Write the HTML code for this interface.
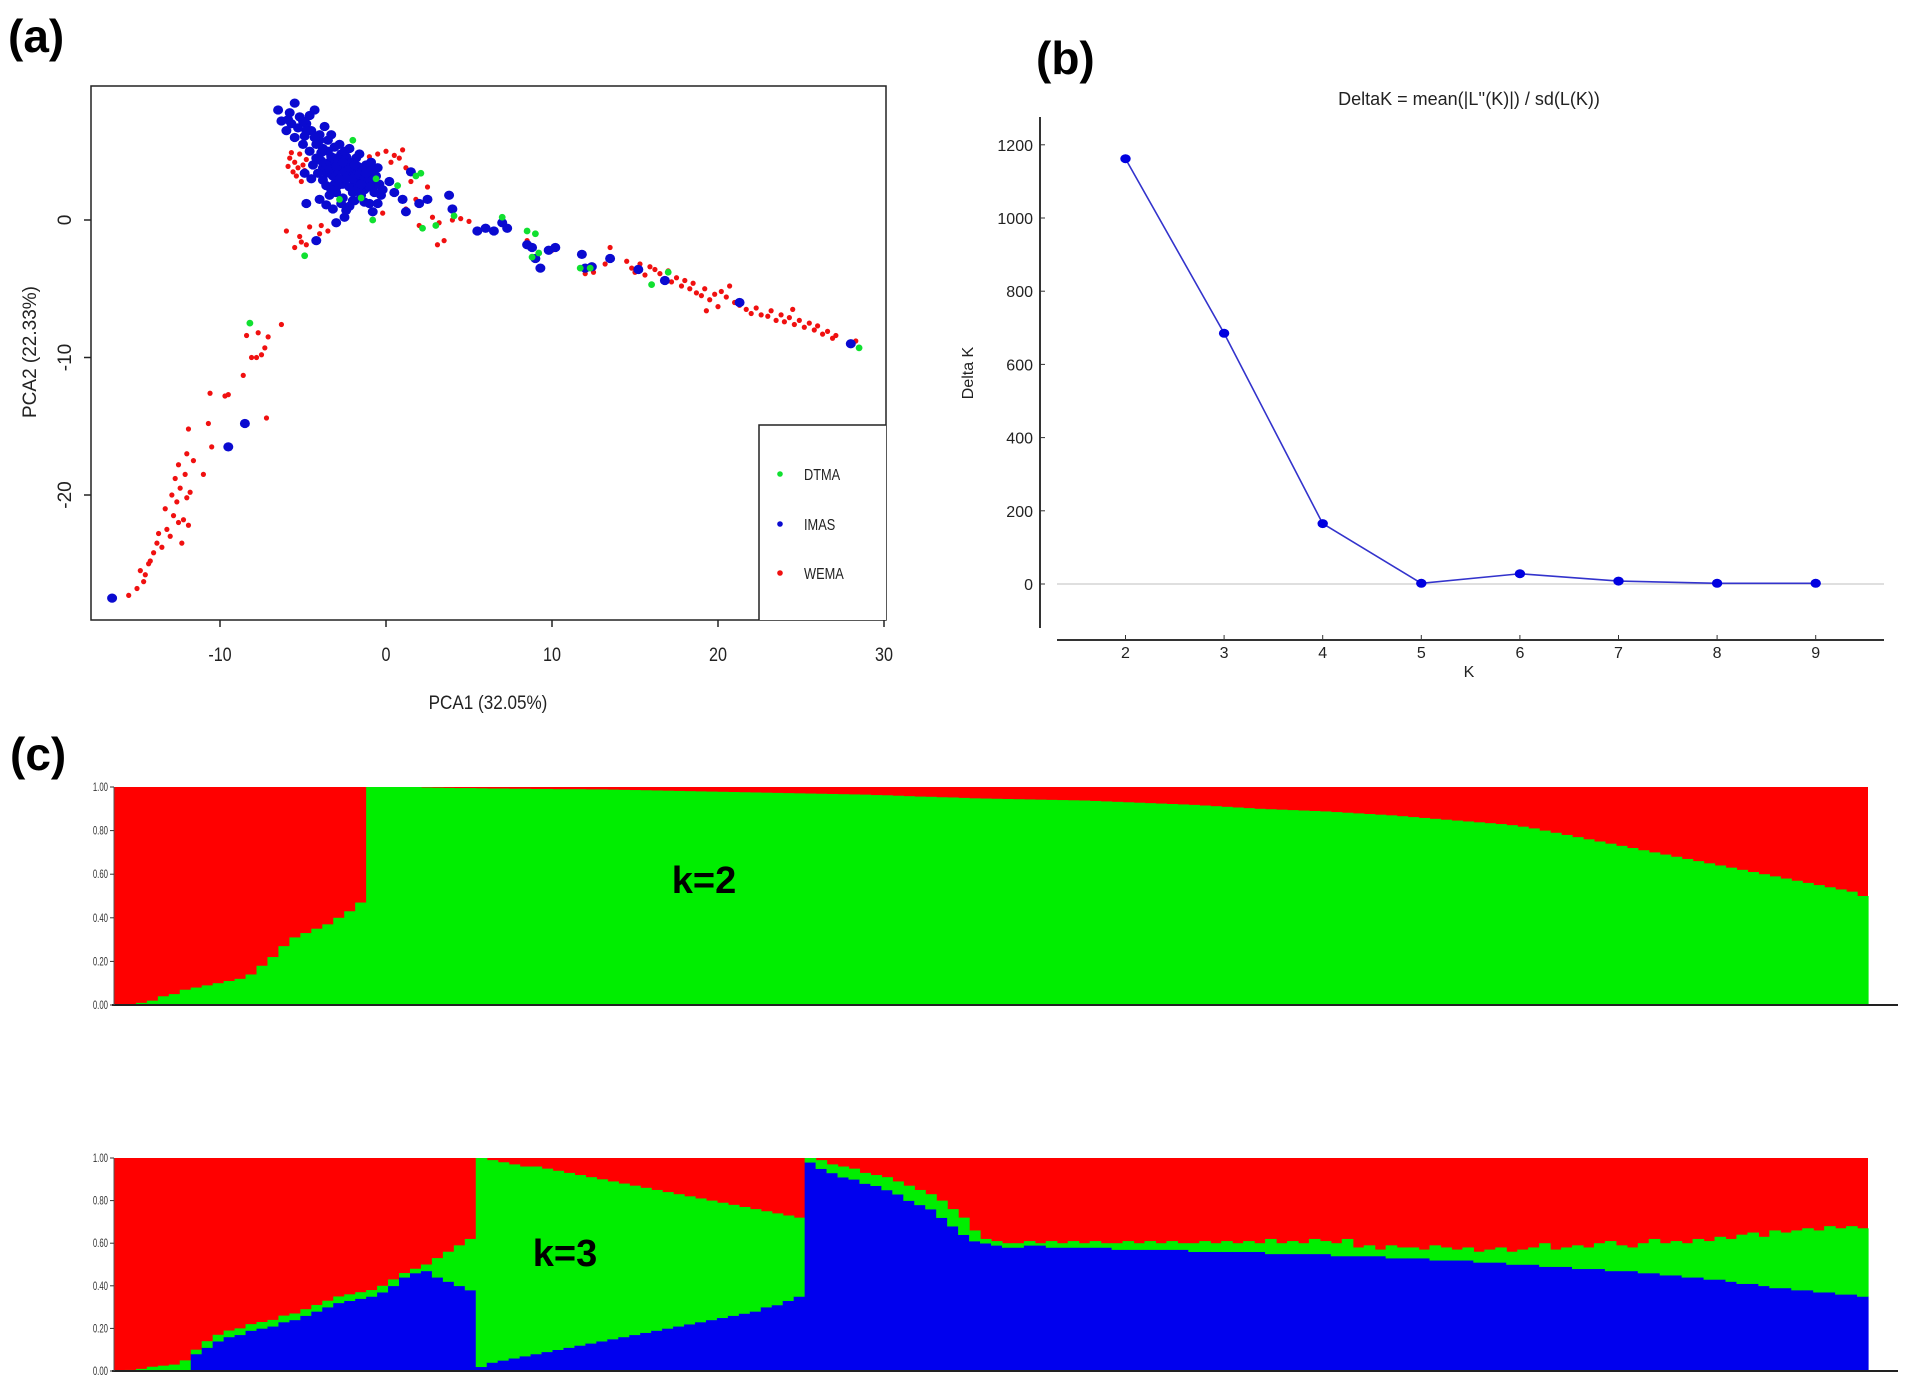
<!DOCTYPE html>
<html><head><meta charset="utf-8"><style>
html,body{margin:0;padding:0;background:#fff;}
svg{display:block;font-family:"Liberation Sans",sans-serif;}
</style></head><body>
<svg id="fig" width="1909" height="1389" viewBox="0 0 1909 1389" xmlns="http://www.w3.org/2000/svg">
<rect width="1909" height="1389" fill="#fff"/>
<g id="pca"></g>
<g id="dk"></g>
<g id="st"></g>
</svg>
<script>
// ---------- Panel (a) PCA data ----------
const wemaPts = [[-15.5,-27.3],[-15,-26.8],[-14.8,-25.5],[-14.5,-25.8],[-14.3,-25],[-14,-24.2],[-14.2,-24.8],[-13.8,-23.5],[-13.5,-23.8],[-13.7,-22.8],[-13.2,-22.5],[-13,-23],[-12.8,-21.5],[-13.3,-21],[-12.5,-22],[-12.6,-20.5],[-12.2,-21.8],[-12.9,-20],[-12.4,-19.5],[-12,-20.2],[-12.7,-18.8],[-12.1,-18.5],[-11.8,-19.8],[-11.6,-17.5],[-12.5,-17.8],[-12,-17],[-11.9,-15.2],[-11,-18.5],[-10.5,-16.5],[-10.7,-14.8],[-10.6,-12.6],[-9.7,-12.8],[-9.5,-12.7],[-8.6,-11.3],[-8.1,-10],[-7.8,-10],[-7.5,-9.8],[-7.3,-9.3],[-7.1,-8.5],[-7.2,-14.4],[-8.4,-8.4],[-7.7,-8.2],[-6.3,-7.6],[-12.3,-23.5],[-11.9,-22.2],[-14.6,-26.3],
[-5.8,4.5],[-5.5,4.2],[-5.3,3.8],[-5.6,3.5],[-5.2,4.8],[-5.9,3.9],[-5,4],[-5.4,3.2],[-4.9,3.6],[-5.7,4.9],[-5.1,2.8],[-4.8,4.4],
[-6,-0.8],[-5.2,-1.2],[-4.6,-0.5],[-4,-1],[-3.5,-0.8],[-4.8,-1.8],[-5.5,-2],[-4.2,-1.5],[-5.1,-1.6],[-3.9,-0.4],
[-0.5,4.8],[0,5],[0.5,4.7],[1,5.1],[-1,4.6],[0.3,4.2],[1.2,3.8],[0.8,4.5],[1.5,2.8],[2.5,2.4],[1.8,1.5],[2.8,0.2],[3.2,-0.2],[3.5,-1.5],[3.1,-1.8],[4,0],[4.5,0.1],[5,-0.1],[2,-0.4],[1.2,0.8],[-0.2,0.5],
[6,-0.5],[8.5,-1.5],[10,-2.2],[12.5,-3.8],[13.5,-2],[13.2,-3.2],[12,-3.9],
[14.5,-3],[14.8,-3.5],[15,-3.8],[15.3,-3.2],[15.6,-4],[15.9,-3.4],[16.2,-3.6],[16.5,-3.9],[16.8,-4.3],[17,-3.7],[17.2,-4.5],[17.5,-4.2],[17.8,-4.8],[18,-4.4],[18.3,-5],[18.5,-4.6],[18.7,-5.3],[19,-5.5],[19.2,-5],[19.5,-5.8],[19.8,-5.4],[20,-6.3],[20.2,-5.2],[20.5,-5.6],[21,-6],[21.3,-6.2],[21.7,-6.5],[22,-6.8],[22.3,-6.4],[22.6,-6.9],[23,-7],[23.2,-6.6],[23.5,-7.3],[23.8,-6.9],[24,-7.4],[24.3,-7.1],[24.6,-7.6],[24.9,-7.3],[25.2,-7.8],[25.5,-7.5],[25.8,-8],[26,-7.7],[26.3,-8.3],[26.6,-8.1],[26.9,-8.6],[27.1,-8.4],[28.3,-8.8],[20.7,-4.8],[19.3,-6.6],[24.5,-6.5]];
const imasPts = [[-16.5,-27.5],[-9.5,-16.5],[-8.5,-14.8],
[-5.8,7.8],[-6.3,7.2],[-5.5,8.5],[-5.2,7.5],[-4.8,7],[-4.3,8],[-6,6.5],[-5.5,6],[-5,5.5],[-4.5,6.5],[-4,5.8],[-3.7,6.8],[-3.5,5],[-3,4.5],[-2.8,5.5],[-2.5,4],[-2.2,5.2],[-2,3.5],[-1.8,4.5],[-1.5,3],[-1.2,4],[-1,3.2],[-0.7,2.5],[-0.5,3.8],[-3.2,3.2],[-3.8,3.8],[-4.2,4.5],[-2.6,2.6],[-2,2],[-1.5,1.8],[-3,2],[-3.6,2.5],[-4,1.5],[-3.2,0.8],[-2.2,1],[-2.5,0.2],[-1,1.2],[-0.3,1.8],[-4.5,3],[-3.4,4.2],[-2.9,3.6],[-1.9,2.8],[-2.3,3.3],[-1.3,2.2],[-0.8,0.6],[0.5,2],[1,1.5],[1.2,0.6],[1.5,3.5],[2,1.2],[2.5,1.5],[3.8,1.8],[4,0.8],[-4.2,-1.5],[-4.8,1.2],[-3,-0.2],
[-4.6,5],[-4.2,5.5],[-3.9,4.9],[-3.5,5.8],[-3.3,4.6],[-3.1,5.3],[-2.7,4.8],[-2.4,4.6],[-2.1,4.2],[-1.7,3.9],[-1.4,3.6],[-1.1,2.8],[-0.9,3.6],[-0.6,3.2],[-2.8,3],[-2.5,3.5],[-3.6,3.4],[-4.1,3.4],[-3.8,2.9],[-2.2,2.4],[-1.7,2.3],[-1.2,2.6],[-0.4,2.6],[-2.6,1.6],[-3.4,1.8],[-4.9,6.1],[-5.3,6.7],[-4.6,7.6],[-3.6,4],[-2.2,3.8],[-1.6,4.8],[-0.9,4.2],[-4.9,3.4],[-3.1,2.6],[-1.9,1.4],[-0.5,1.2],[0.2,2.8],[-5.7,7],[-6.5,8],[-4,6.2],
[-3.9,4.3],[-3.4,3.7],[-3,3.9],[-2.6,4.2],[-2.4,3],[-2,3],[-1.6,3.3],[-1.3,3.1],[-1,2.4],[-0.7,2],[-2.9,2.5],[-3.3,2.2],[-2.7,1.2],[-2,1.4],[-1.5,2.6],[-4.4,4],[-4.3,6],[-4.8,6.5],[-5,7.2],[-5.9,7.3],[-3.3,6.2],[-3.8,5.2],[-2.5,5],[-1.9,4],[-1.2,3.4],[-0.8,2.9],[-0.2,2.2],[-3.6,1.1],[-2.4,0.7],[-1.3,1.3],
[5.5,-0.8],[6,-0.6],[6.5,-0.8],[7,-0.2],[7.3,-0.6],[8.5,-1.8],[8.8,-2],[9,-2.8],[9.3,-3.5],[9.8,-2.2],[10.2,-2],[11.8,-2.5],[12,-3.5],[12.4,-3.4],[13.5,-2.8],[15.2,-3.6],[16.8,-4.4],[21.3,-6],[28,-9]];
const dtmaPts = [[-8.2,-7.5],[-4.9,-2.6],[-2,5.8],[-1.5,1.6],[-0.8,0],[0.7,2.5],[1.8,3.2],[2.1,3.4],[2.2,-0.6],[3,-0.4],[4.1,0.3],[7,0.2],[8.5,-0.8],[9,-1],[9.2,-2.4],[8.8,-2.7],[11.7,-3.5],[12.3,-3.5],[16,-4.7],[17,-3.8],[28.5,-9.3],[-0.6,3],[-2.8,1.5]];
const pcaXTicks = [-10,0,10,20,30];
const pcaYTicks = [0,-10,-20];
const legendLabels = ["DTMA","IMAS","WEMA"];

// ---------- Panel (b) DeltaK data ----------
const kValues = [2,3,4,5,6,7,8,9];
const deltaK = [1162,685,165,2,28,8,2,2];
const dkYTicks = [0,200,400,600,800,1000,1200];

// ---------- Panel (c) structure data ----------
const k2Green = [0,0,0.01,0.02,0.04,0.05,0.07,0.08,0.09,0.1,0.11,0.12,0.14,0.18,0.22,0.27,0.31,0.33,0.35,0.37,0.4,0.43,0.47,
1,1,1,1,1,0.998,0.997,0.996,0.995,0.995,
.994,.993,.993,.992,.992,.991,.991,.99,.99,.99,
.989,.989,.988,.987,.986,.985,.984,.983,.982,.981,
.98,.979,.978,.977,.976,.975,.974,.973,.972,.971,
.97,.969,.968,.967,.966,.965,.963,.962,.96,.958,
.956,.955,.953,.952,.95,.948,.947,.946,.945,.944,
.943,.942,.941,.94,.939,.938,.936,.934,.932,.93,
.928,.926,.924,.922,.92,.918,.915,.912,.909,.906,
.903,.9,.898,.896,.894,.892,.89,.888,.885,.882,
.879,.876,.873,.87,.866,.862,.858,.854,.85,.846,
.842,.838,.834,.83,.825,.818,.81,.8,.79,.78,
.77,.76,.75,.74,.73,.72,.71,.7,.69,.68,
.67,.66,.65,.64,.63,.62,.61,.6,.59,.58,
.57,.56,.55,.54,.53,.52,.5];
const k3Blue = [0,0,0,0,0,0,0,
.08,.11,.14,.16,.17,.19,.2,.21,.23,.24,.26,.28,.3,.32,.33,.34,.35,.37,.4,.44,.46,.47,.44,.42,.4,.38,
0.02,0.04,0.05,0.06,0.07,0.08,0.09,0.1,0.11,0.12,0.13,0.14,0.15,0.16,0.17,0.18,0.19,0.2,0.21,0.22,0.23,0.24,0.25,0.26,0.27,0.28,0.3,0.31,0.33,0.35,
.98,.95,.93,.91,.9,.88,.87,.85,.83,.8,.78,.76,.72,.68,.64,.61,.6,.59,.58,.58,
.59,.59,.58,.58,.58,.58,.58,.58,.57,.57,
.57,.57,.57,.57,.57,.56,.56,.56,.56,.56,
.56,.56,.55,.55,.55,.55,.55,.55,.54,.54,
.54,.54,.54,.53,.53,.53,.53,.52,.52,.52,
.52,.51,.51,.51,.5,.5,.5,.49,.49,.49,
.48,.48,.48,.47,.47,.47,.46,.46,.45,.45,
.44,.44,.43,.43,.42,.41,.41,.4,.39,.39,
.38,.38,.37,.37,.36,.36,.35];
const k3Green = [0,.005,.01,.02,.025,.03,.05,
.02,.03,.03,.03,.03,.03,.03,.03,.03,.03,.03,.03,.03,.03,.03,.03,.03,.03,.03,.02,.02,.03,.09,.14,.19,.24,
.98,.95,.93,.91,.89,.88,.86,.84,.82,.8,.78,.76,.74,.72,.7,.68,.66,.64,.62,.6,.58,.56,.54,.52,.5,.48,.45,.43,.4,.37,
.02,.04,.04,.05,.05,.05,.05,.06,.06,.07,.07,.07,.08,.08,.08,.05,.02,.02,.02,.02,
.02,.01,.03,.02,.03,.02,.03,.02,.03,.04,
.03,.04,.03,.04,.03,.04,.05,.04,.05,.04,
.05,.04,.07,.05,.06,.05,.07,.06,.06,.08,
.04,.05,.03,.06,.05,.05,.04,.07,.06,.05,
.06,.05,.06,.07,.06,.07,.08,.11,.08,.09,
.11,.1,.12,.14,.12,.11,.14,.16,.15,.16,
.16,.18,.18,.2,.2,.23,.24,.23,.27,.26,
.28,.29,.29,.31,.31,.32,.32];
const structTicks = ["0.00","0.20","0.40","0.60","0.80","1.00"];

const NS = "http://www.w3.org/2000/svg";
function mk(parent, tag, attrs, text){
  const el = document.createElementNS(NS, tag);
  for (const k in attrs) el.setAttribute(k, attrs[k]);
  if (text !== undefined) el.textContent = text;
  parent.appendChild(el);
  return el;
}

// ===== Panel (a) =====
(function(){
  const g = document.getElementById('pca');
  const X = v => 386 + v*16.6;
  const Y = v => 220 - v*13.75;
  let t = mk(g,'text',{x:8,y:52,'font-size':46,'font-weight':'bold'},'(a)');
  
  
  let r = mk(g,'rect',{x:91,y:86,width:795,height:534,fill:'none',stroke:'#222','stroke-width':1.5});
  
  
  pcaXTicks.forEach(v=>{
    const l = mk(g,'line',{x1:X(v),x2:X(v),y1:620,y2:627,stroke:'#222','stroke-width':1.5});
    
    
    const tx = mk(g,'text',{x:X(v),y:661,'font-size':19,'text-anchor':'middle',fill:'#222',transform:`scale(0.85,1) translate(${X(v)*(1/0.85-1)},0)`},String(v));
    
    
  });
  pcaYTicks.forEach(v=>{
    const l = mk(g,'line',{x1:84,x2:91,y1:Y(v),y2:Y(v),stroke:'#222','stroke-width':1.5});
    
    
    const tx = mk(g,'text',{x:0,y:0,'font-size':19,'text-anchor':'middle',fill:'#222',transform:`translate(71,${Y(v)}) rotate(-90)`},String(v));
    
    
  });
  t = mk(g,'text',{x:0,y:0,'font-size':19,'text-anchor':'middle',fill:'#222',transform:'translate(488,709) scale(0.9,1)'},'PCA1 (32.05%)');
  
  
  t = mk(g,'text',{x:0,y:0,'font-size':19,'text-anchor':'middle',fill:'#222',transform:'translate(36,352) rotate(-90)'},'PCA2 (22.33%)');
  
  
  const pg = mk(g,'g',{});
  
  
  wemaPts.forEach(p=>{
    const c = mk(pg,'circle',{cx:X(p[0]),cy:Y(p[1]),r:2.6,fill:'#f01010'});
    
    
  });
  imasPts.forEach(p=>{
    const c = mk(pg,'ellipse',{cx:X(p[0]),cy:Y(p[1]),rx:5,ry:4.6,fill:'#0a0ad0'});
    
    
  });
  dtmaPts.forEach(p=>{
    const c = mk(pg,'circle',{cx:X(p[0]),cy:Y(p[1]),r:3.4,fill:'#10e030'});
    
    
  });
  const lg = mk(g,'g',{});
  
  
  mk(lg,'rect',{x:759,y:425,width:127,height:195,fill:'#fff',stroke:'none'});
  mk(lg,'polyline',{points:'759,620 759,425 886,425',fill:'none',stroke:'#222','stroke-width':1.5});
  const cols = ['#10e030','#0a0ad0','#f01010'];
  const ys = [474,524,573];
  legendLabels.forEach((lab,i)=>{
    const c = mk(lg,'circle',{cx:780,cy:ys[i],r:2.8,fill:cols[i]});
    
    
    const tx = mk(lg,'text',{x:0,y:0,'font-size':16,fill:'#222',transform:`translate(804,${ys[i]+6}) scale(0.8,1)`},lab);
    
    
  });
})();

// ===== Panel (b) =====
(function(){
  const g = document.getElementById('dk');
  const X = k => 1125.5 + (k-2)*98.6;
  const Y = v => 584 - v*0.366;
  let t = mk(g,'text',{x:1036,y:74,'font-size':46,'font-weight':'bold'},'(b)');
  
  
  t = mk(g,'text',{x:1469,y:105,'font-size':18,'text-anchor':'middle',fill:'#222'},"DeltaK = mean(|L''(K)|) / sd(L(K))");
  
  
  let l = mk(g,'line',{x1:1040,x2:1040,y1:117,y2:628,stroke:'#333','stroke-width':2});
  
  
  l = mk(g,'line',{x1:1057,x2:1884,y1:640,y2:640,stroke:'#333','stroke-width':2});
  
  
  l = mk(g,'line',{x1:1057,x2:1884,y1:Y(0),y2:Y(0),stroke:'#ccc','stroke-width':1.2});
  
  
  dkYTicks.forEach(v=>{
    const tk = mk(g,'line',{x1:1040,x2:1045,y1:Y(v),y2:Y(v),stroke:'#333','stroke-width':1});
    
    
    const tx = mk(g,'text',{x:1033,y:Y(v)+6,'font-size':16,'text-anchor':'end',fill:'#222'},String(v));
    
    
  });
  kValues.forEach(k=>{
    const tk = mk(g,'line',{x1:X(k),x2:X(k),y1:640,y2:635,stroke:'#333','stroke-width':1});
    
    
    const tx = mk(g,'text',{x:X(k),y:658,'font-size':16,'text-anchor':'middle',fill:'#222'},String(k));
    
    
  });
  t = mk(g,'text',{x:1469,y:677,'font-size':16,'text-anchor':'middle',fill:'#222'},'K');
  
  
  t = mk(g,'text',{x:0,y:0,'font-size':16,'text-anchor':'middle',fill:'#222',transform:'translate(973,373) rotate(-90)'},'Delta K');
  
  
  const pts = kValues.map((k,i)=>X(k)+','+Y(deltaK[i])).join(' ');
  const pl = mk(g,'polyline',{points:pts,fill:'none',stroke:'#3333cc','stroke-width':1.6});
  
  
  kValues.forEach((k,i)=>{
    const c = mk(g,'ellipse',{cx:X(k),cy:Y(deltaK[i]),rx:5.2,ry:4.5,fill:'#0000e0'});
    
    
  });
})();

// ===== Panel (c) =====
(function(){
  const g = document.getElementById('st');
  const L = 114, R = 1868;
  let t = mk(g,'text',{x:10,y:770,'font-size':46,'font-weight':'bold'},'(c)');
  
  
  function plot(top, bot, name, layers){
    const pg = mk(g,'g',{});
    
    
    const n = layers[0].length;
    const w = (R-L)/n;
    const Y = v => bot - v*(bot-top);
    const bg = mk(pg,'rect',{x:L,y:top,width:R-L,height:bot-top,fill:'#ff0000'});
    
    
    const colors = layers.length===2 ? ['#0000ee','#00ee00'] : ['#00ee00'];
    const names = layers.length===2 ? ['cluster-blue','cluster-green'] : ['cluster-green'];
    for (let i=0;i<n;i++){
      let base = 0;
      layers.forEach((arr,j)=>{
        const v = arr[i];
        if (v>0){
          const b = mk(pg,'rect',{x:L+i*w,y:Y(base+v),width:w+0.6,height:v*(bot-top)+0.3,fill:colors[j]});
          
          
        }
        base += v;
      });
    }
    const ax = mk(pg,'line',{x1:L-2,x2:1898,y1:bot,y2:bot,stroke:'#222','stroke-width':2});
    
    
    const ay = mk(pg,'line',{x1:L,x2:L,y1:top,y2:bot,stroke:'#555','stroke-width':1});
    
    
    structTicks.forEach((lab,i)=>{
      const yy = Y(i/5);
      const tk = mk(pg,'line',{x1:L-4,x2:L,y1:yy,y2:yy,stroke:'#333','stroke-width':1});
      
      
      const tx = mk(pg,'text',{x:0,y:0,'font-size':12,'text-anchor':'end',fill:'#333',transform:`translate(${L-6},${yy+4}) scale(0.65,1)`},lab);
      
      
    });
  }
  plot(787, 1005, 'structure-k2', [k2Green]);
  plot(1158, 1371, 'structure-k3', [k3Blue, k3Green]);
  t = mk(g,'text',{x:704,y:893,'font-size':38,'font-weight':'bold','text-anchor':'middle',fill:'#000'},'k=2');
  
  
  t = mk(g,'text',{x:565,y:1266,'font-size':38,'font-weight':'bold','text-anchor':'middle',fill:'#000'},'k=3');
  
  
})();
</script>
</body></html>
